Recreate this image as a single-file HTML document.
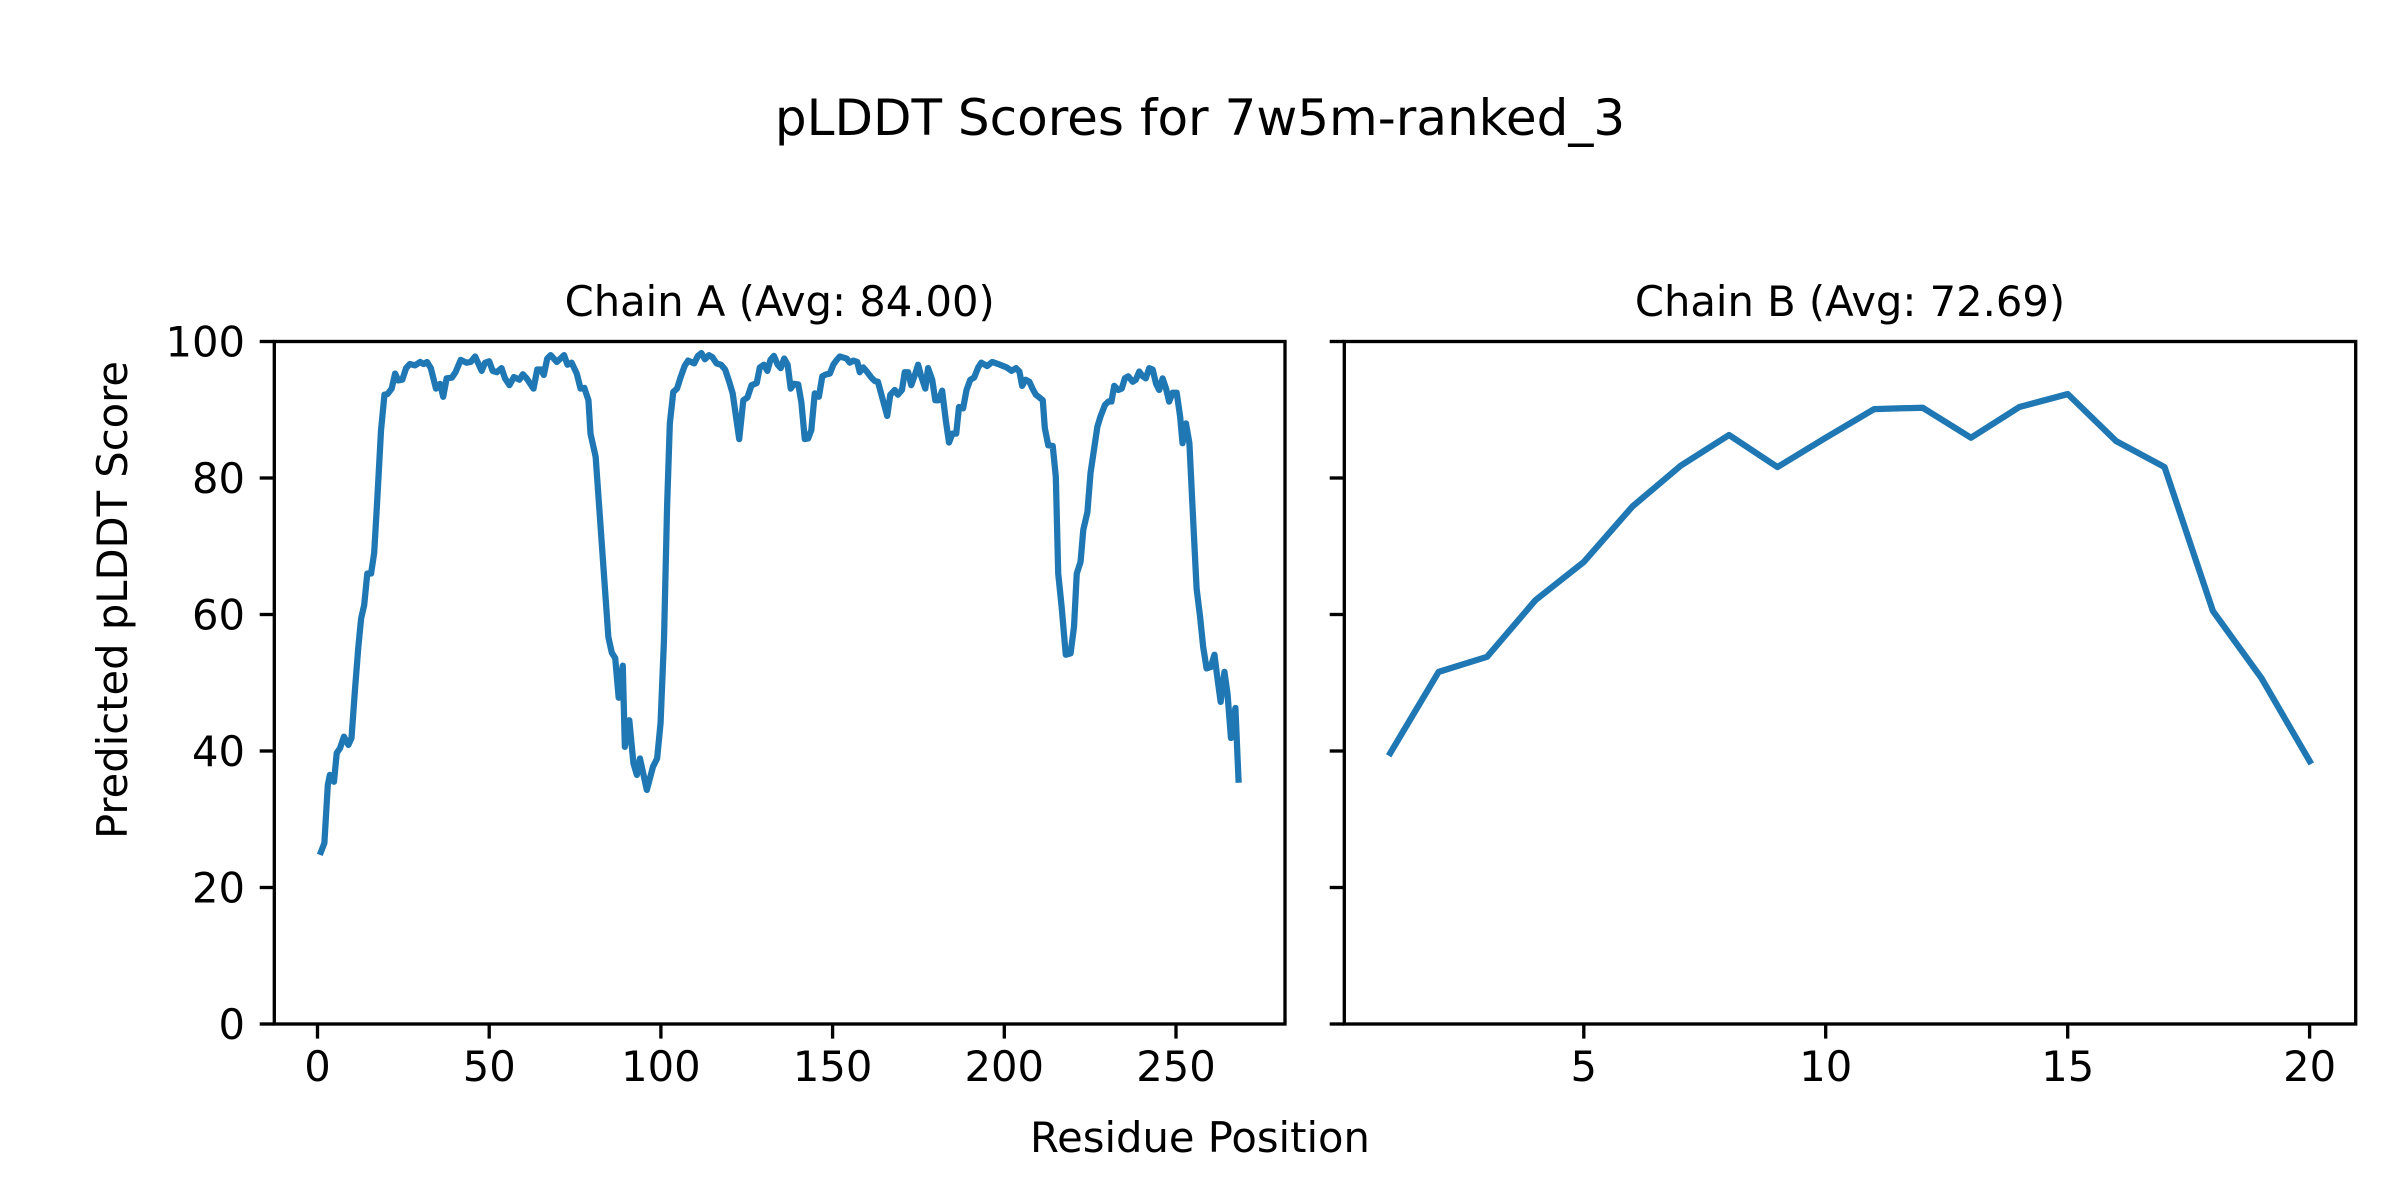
<!DOCTYPE html>
<html>
<head>
<meta charset="utf-8">
<style>
html,body{margin:0;padding:0;background:#fff;}
svg{display:block;}
text{font-family:"DejaVu Sans","Liberation Sans",sans-serif;fill:#000;}
</style>
</head>
<body>
<svg width="2400" height="1200" viewBox="0 0 2400 1200" xmlns="http://www.w3.org/2000/svg">
<rect x="0" y="0" width="2400" height="1200" fill="#fff"/>

<!-- Suptitle -->
<text x="1200" y="135" font-size="50" text-anchor="middle">pLDDT Scores for 7w5m-ranked_3</text>

<!-- Chain A -->
<text x="779.7" y="316" font-size="41.67" text-anchor="middle">Chain A (Avg: 84.00)</text>
<svg x="274.3" y="341.5" width="1010.7" height="682.5" viewBox="-12.58 -100 294.32 100" preserveAspectRatio="none" overflow="hidden">
<g transform="scale(1,-1)">
<polyline fill="none" stroke="#1f77b4" stroke-width="6.25" stroke-linejoin="round" stroke-linecap="square" vector-effect="non-scaling-stroke"
points="1,25.2 2,26.5 3,35.0 3.6,36.5 4.8,35.5 5.6,39.7 6.55,40.4 7.7,42.1 9,40.9 9.9,41.9 10.9,48.9 11.9,55.3 12.7,59.4 13.6,61.4 14.5,66.0 15.6,66.0 16.5,69.0 17.4,76.8 18.5,87.0 19.5,92.2 20.4,92.3 21.6,93.1 22.6,95.3 23.5,94.3 24.7,94.4 25.8,96.1 26.9,96.7 28.4,96.5 29.9,97.0 30.9,96.7 31.9,97.0 33,96.1 34.5,93.1 35.7,93.8 36.6,91.9 37.6,94.6 39.1,94.7 40.2,95.5 41.7,97.3 43.4,96.9 44.6,97.0 45.9,97.8 46.8,96.8 47.8,95.7 48.8,96.9 50,97.1 51,95.7 52.2,95.5 53.6,96.1 54.6,94.6 55.9,93.6 57.2,94.8 58.8,94.4 59.8,95.2 60.9,94.6 62.9,93.1 64,95.9 65.1,95.9 65.9,95.1 66.9,97.5 67.9,98.0 69.7,97.0 71.8,98.0 72.8,96.6 74,96.9 75.5,95.3 76.6,93.1 77.7,93.2 78.9,91.4 79.5,86.5 81,83.1 84.7,56.7 85.7,54.4 86.7,53.6 87.7,47.8 88.9,52.5 89.5,40.6 90.8,44.5 92,38.2 93,36.5 93.9,38.9 95.9,34.3 97.7,37.7 98.9,38.9 99.9,44.1 100.9,56.3 101.8,75.8 102.6,88.0 103.6,92.6 104.7,93.1 105.7,94.7 106.9,96.4 107.9,97.2 109.7,96.8 110.8,97.9 111.8,98.3 112.8,97.4 114,98.0 115,97.7 116.2,96.8 117.5,96.6 118.7,95.9 119.9,94.1 120.9,92.4 122.8,85.7 124,91.4 125.2,91.8 126.4,93.6 127.9,93.9 128.8,96.2 130,96.6 131,95.7 131.9,97.3 132.9,97.9 134,96.6 134.9,96.1 135.9,97.5 136.9,96.6 137.8,93.1 138.8,93.8 140,93.7 140.9,91.1 141.9,85.7 142.9,85.8 143.8,87.0 144.8,92.4 146,91.9 147,94.9 148.2,95.2 149.2,95.3 150.2,96.6 151.2,97.3 152.1,97.8 154.1,97.5 155,96.9 156,97.2 157.2,97.0 157.9,95.5 158.9,96.2 160.1,95.5 161.3,94.7 162.3,94.2 163.2,94.1 164.5,91.7 165.9,89.1 166.8,92.2 168.1,92.9 169,92.2 170.2,92.9 171,95.5 172,95.5 172.9,93.6 173.9,95.0 174.9,96.6 175.8,94.9 177,93.1 177.8,96.1 179,94.4 179.9,91.4 180.9,91.4 181.9,92.8 183,88.3 183.9,85.2 184.9,86.5 186,86.5 186.8,90.4 188,90.2 189,92.9 190.1,94.4 191.2,94.7 192.4,96.2 193.3,96.9 195,96.4 196.5,97.0 198.2,96.7 200.7,96.2 202.1,95.7 203.4,96.1 204.4,95.6 205.2,93.5 206.2,94.4 207.3,94.1 208.2,93.1 209.2,92.2 210.2,91.8 211.2,91.4 211.8,87.3 212.8,84.8 214.1,84.7 215,80.2 215.7,66.0 216.7,61.1 217.9,54.1 219.3,54.3 220.3,58.2 221.1,66.0 222.2,67.7 223,72.4 224.2,75.0 225.1,80.7 226.1,84.1 227.1,87.5 228,89.0 229.3,90.7 230.3,91.2 231.2,91.2 232,93.5 233.2,92.9 234.2,93.1 235.1,94.6 236.1,94.9 237.4,94.1 238.3,94.4 239.3,95.6 240.3,94.9 241.2,94.6 242.2,96.1 243.2,95.9 244.2,93.8 245.1,92.9 246.1,94.6 247.1,93.1 248,91.2 249,92.5 250.2,92.5 251.2,89.0 251.9,85.1 252.9,88.0 253.9,85.1 255,73.8 256,63.8 257,59.7 257.9,55.3 258.9,52.1 260.1,52.3 261.2,54.1 262,50.9 263,47.2 264.1,51.6 265,48.4 266,41.9 267.3,46.3 268.2,35.8"/>
</g>
</svg>
<g stroke="#000" stroke-width="3.33" fill="none">
<rect x="274.3" y="341.5" width="1010.7" height="682.5" stroke-linejoin="miter"/>
<!-- y ticks A -->
<line x1="259.7" y1="1024" x2="274.3" y2="1024"/>
<line x1="259.7" y1="887.5" x2="274.3" y2="887.5"/>
<line x1="259.7" y1="751" x2="274.3" y2="751"/>
<line x1="259.7" y1="614.5" x2="274.3" y2="614.5"/>
<line x1="259.7" y1="478" x2="274.3" y2="478"/>
<line x1="259.7" y1="341.5" x2="274.3" y2="341.5"/>
<!-- x ticks A -->
<line x1="317.5" y1="1024" x2="317.5" y2="1038.6"/>
<line x1="489.2" y1="1024" x2="489.2" y2="1038.6"/>
<line x1="660.9" y1="1024" x2="660.9" y2="1038.6"/>
<line x1="832.6" y1="1024" x2="832.6" y2="1038.6"/>
<line x1="1004.3" y1="1024" x2="1004.3" y2="1038.6"/>
<line x1="1176" y1="1024" x2="1176" y2="1038.6"/>
</g>
<g font-size="41.67" text-anchor="end">
<text x="245" y="1039">0</text>
<text x="245" y="902.5">20</text>
<text x="245" y="766">40</text>
<text x="245" y="629.5">60</text>
<text x="245" y="493">80</text>
<text x="245" y="356.5">100</text>
</g>
<g font-size="41.67" text-anchor="middle">
<text x="317.5" y="1081">0</text>
<text x="489.2" y="1081">50</text>
<text x="660.9" y="1081">100</text>
<text x="832.6" y="1081">150</text>
<text x="1004.3" y="1081">200</text>
<text x="1176" y="1081">250</text>
</g>

<!-- Chain B -->
<text x="1850" y="316" font-size="41.67" text-anchor="middle">Chain B (Avg: 72.69)</text>
<svg x="1344.3" y="341.5" width="1011.4" height="682.5" viewBox="0.05 -100 20.9 100" preserveAspectRatio="none" overflow="hidden">
<g transform="scale(1,-1)">
<polyline fill="none" stroke="#1f77b4" stroke-width="6.25" stroke-linejoin="round" stroke-linecap="square" vector-effect="non-scaling-stroke"
points="1,39.7 2,51.6 3,53.8 4,62.1 5,67.7 6,75.8 7,81.8 8,86.3 9,81.6 10,85.9 11,90.1 12,90.3 13,85.9 14,90.4 15,92.3 16,85.4 17,81.6 18,60.5 19,50.7 20,38.5"/>
</g>
</svg>
<g stroke="#000" stroke-width="3.33" fill="none">
<rect x="1344.3" y="341.5" width="1011.4" height="682.5" stroke-linejoin="miter"/>
<line x1="1329.7" y1="1024" x2="1344.3" y2="1024"/>
<line x1="1329.7" y1="887.5" x2="1344.3" y2="887.5"/>
<line x1="1329.7" y1="751" x2="1344.3" y2="751"/>
<line x1="1329.7" y1="614.5" x2="1344.3" y2="614.5"/>
<line x1="1329.7" y1="478" x2="1344.3" y2="478"/>
<line x1="1329.7" y1="341.5" x2="1344.3" y2="341.5"/>
<line x1="1583.8" y1="1024" x2="1583.8" y2="1038.6"/>
<line x1="1825.7" y1="1024" x2="1825.7" y2="1038.6"/>
<line x1="2067.7" y1="1024" x2="2067.7" y2="1038.6"/>
<line x1="2309.6" y1="1024" x2="2309.6" y2="1038.6"/>
</g>
<g font-size="41.67" text-anchor="middle">
<text x="1583.8" y="1081">5</text>
<text x="1825.7" y="1081">10</text>
<text x="2067.7" y="1081">15</text>
<text x="2309.6" y="1081">20</text>
</g>

<!-- Shared labels -->
<text x="1200" y="1152" font-size="41.67" text-anchor="middle">Residue Position</text>
<text transform="translate(127,600) rotate(-90)" font-size="41.67" text-anchor="middle">Predicted pLDDT Score</text>
</svg>
</body>
</html>
